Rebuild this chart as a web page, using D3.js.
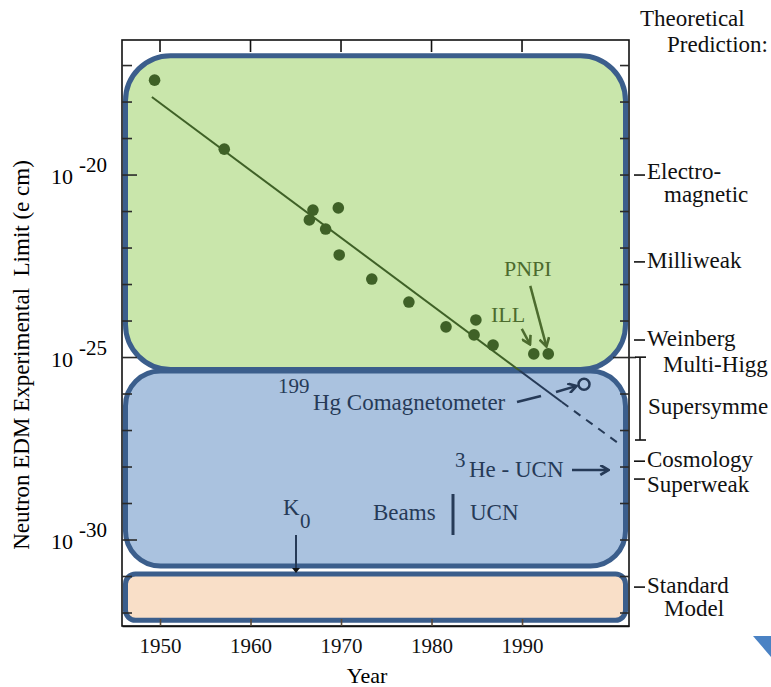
<!DOCTYPE html>
<html><head><meta charset="utf-8">
<script src="https://cdn.jsdelivr.net/npm/d3@7"></script>
<style>
body{margin:0;background:#fff}
svg{display:block}
svg text{font-family:'Liberation Serif','Times New Roman',Times,Tinos,'Nimbus Roman','DejaVu Serif',serif !important}
</style>
</head><body>
<svg id="c" width="771" height="687" font-family="'Liberation Serif', 'Times New Roman', Times, serif"></svg>
<script>
// ---- data ----
const years    = [1949.4, 1957.1, 1966.5, 1966.9, 1968.3, 1969.7, 1969.8, 1973.4, 1977.5, 1981.6, 1984.9, 1984.7, 1986.8, 1991.3, 1992.9];
const limitExp = [-17.4, -19.29, -21.23, -20.96, -21.48, -20.9, -22.19, -22.85, -23.48, -24.16, -23.97, -24.38, -24.66, -24.9, -24.9];
const hgYear = 1996.85, hgExp = -25.73;
const fitYears = [1949.1, 1994.4], fitExp = [-17.86, -26.22];
const extYears = [1994.4, 2000.6], extExp = [-26.22, -27.34];
const yearTicks = [1950, 1960, 1970, 1980, 1990];
const labelExps = [-20, -25, -30];
const decadeExps = d3.range(-17, -33, -1);
const bandTop = [-16.73, -25.37, -30.93];
const bandBottom = [-25.33, -30.71, -32.2];
const bandFill = ["#c9e6ab", "#aac2df", "#f9dfc8"];
const predNames = ["Electro-|magnetic", "Milliweak", "Weinberg", "Cosmology", "Superweak", "Standard|Model"];
const predExps  = [-20, -22.38, -24.52, -27.84, -28.33, -31.29];
const rangeNames = ["Multi-Higg", "Supersymme"];
const rangeExps = [-24.99, -27.26];

// ---- scales ----
const E = e => Math.pow(10, e);
const svg = d3.select("#c");
const x = d3.scaleLinear().domain([1945.8, 2001.82]).range([122, 629]);
const y = d3.scaleLog().domain([E(-32.356), E(-16.3)]).range([626, 40]);
const L = x.range()[0], R = x.range()[1], T = y.range()[1], B = y.range()[0];

const NAVY = "#263a57", GREEN = "#3f6127", GTEXT = "#4c6b2e", STROKE = "#3b5e8c";

// markers
const defs = svg.append("defs");
function marker(id, color) {
  defs.append("marker").attr("id", id).attr("viewBox", "0 -5 10 10")
    .attr("refX", 8).attr("refY", 0).attr("markerWidth", 11).attr("markerHeight", 11)
    .attr("markerUnits", "userSpaceOnUse").attr("orient", "auto")
    .append("path").attr("d", "M1,-4.5L8.5,0L1,4.5").attr("fill", "none")
    .attr("stroke", color).attr("stroke-width", 2.4);
}
marker("ag", GTEXT); marker("an", NAVY);

// frame
svg.append("rect").attr("x", L).attr("y", T).attr("width", R - L).attr("height", B - T)
  .attr("fill", "none").attr("stroke", "#111").attr("stroke-width", 1.6);
// top ticks
svg.append("g").selectAll("line").data(yearTicks).join("line")
  .attr("x1", d => x(d)).attr("x2", d => x(d)).attr("y1", T).attr("y2", T + 12)
  .attr("stroke", "#111").attr("stroke-width", 1.6);

// bands
const radii = [45, 35, 10];
svg.append("g").selectAll("rect").data(bandTop).join("rect")
  .attr("x", (d, i) => L + 3.5).attr("width", (d, i) => R - L - 7)
  .attr("y", d => y(E(d)))
  .attr("height", (d, i) => y(E(bandBottom[i])) - y(E(d)))
  .attr("rx", (d, i) => radii[i])
  .attr("fill", (d, i) => bandFill[i]).attr("stroke", STROKE).attr("stroke-width", 5);

// left / right decade ticks
const tk = svg.append("g").attr("stroke", "#2a2a2a").attr("stroke-width", 1.6);
tk.selectAll(".l").data(decadeExps).join("line").attr("class", "l")
  .attr("x1", L).attr("x2", d => labelExps.includes(d) ? L + 15 : L + 10)
  .attr("y1", d => y(E(d))).attr("y2", d => y(E(d)));
tk.selectAll(".r").data(decadeExps).join("line").attr("class", "r")
  .attr("x1", d => d === -25 ? R - 16 : R - 9).attr("x2", d => d === -25 ? R + 7 : R)
  .attr("y1", d => y(E(d))).attr("y2", d => y(E(d)));

// bottom axis
const xAxis = d3.axisBottom(x).tickValues(yearTicks).tickFormat(d3.format("d"))
  .tickSizeInner(-7).tickSizeOuter(0).tickPadding(12);
const gx = svg.append("g").attr("transform", `translate(0,${B})`).call(xAxis)
  .attr("font-family", null);
gx.select(".domain").attr("stroke", "#111").attr("stroke-width", 1.6);
gx.selectAll(".tick line").attr("stroke", "#5a4a3a").attr("stroke-width", 1.6);
gx.selectAll(".tick text").attr("font-size", 21).attr("fill", "#111");
gx.attr("font-size", 21);

// left labels 10^n
const yl = svg.append("g").selectAll("g").data(labelExps).join("g");
yl.append("text").attr("x", 73).attr("y", d => y(E(d)) + 9).attr("text-anchor", "end")
  .attr("font-size", 22).text("10");
yl.append("text").attr("x", 79).attr("y", d => y(E(d)) - 3)
  .attr("font-size", 21).text(d => "" + d);

// axis titles
svg.append("text").attr("x", 367).attr("y", 683).attr("text-anchor", "middle")
  .attr("font-size", 22).text("Year");
svg.append("text").attr("transform", "translate(29,355) rotate(-90)").attr("text-anchor", "middle")
  .attr("font-size", 23)
  .text("Neutron EDM Experimental\u00a0 Limit (e cm)");

// fit line, coloured by region
const yBound = y(E(bandBottom[0])) + 1;
defs.append("clipPath").attr("id", "cg").append("rect").attr("x", 0).attr("y", 0).attr("width", 771).attr("height", yBound);
defs.append("clipPath").attr("id", "cb").append("rect").attr("x", 0).attr("y", yBound).attr("width", 771).attr("height", 687);
const line = d3.line().x(d => x(d[0])).y(d => y(E(d[1])));
const fitPts = fitYears.map((v, i) => [v, fitExp[i]]);
svg.append("path").attr("d", line(fitPts)).attr("clip-path", "url(#cg)")
  .attr("fill", "none").attr("stroke", GREEN).attr("stroke-width", 2);
svg.append("path").attr("d", line(fitPts)).attr("clip-path", "url(#cb)")
  .attr("fill", "none").attr("stroke", NAVY).attr("stroke-width", 2);
svg.append("path").attr("d", line(extYears.map((v, i) => [v, extExp[i]])))
  .attr("fill", "none").attr("stroke", NAVY).attr("stroke-width", 2).attr("stroke-dasharray", "8,7");

// data points
svg.append("g").selectAll("circle").data(years).join("circle")
  .attr("cx", d => x(d)).attr("cy", (d, i) => y(E(limitExp[i]))).attr("r", 5.8)
  .attr("fill", GREEN);
// Hg open circle
const hx = x(hgYear), hy = y(E(hgExp));
svg.append("circle").attr("cx", hx).attr("cy", hy).attr("r", 5.5)
  .attr("fill", "none").attr("stroke", NAVY).attr("stroke-width", 2.5);

// ILL & PNPI
const ix = x(years[13]), iy = y(E(limitExp[13]));
const px = x(years[14]), py = y(E(limitExp[14]));
svg.append("text").attr("x", 491).attr("y", 322).attr("font-size", 22).attr("fill", GTEXT).text("ILL");
svg.append("text").attr("x", 504).attr("y", 276).attr("font-size", 22).attr("fill", GTEXT).text("PNPI");
svg.append("line").attr("x1", ix - 12).attr("y1", iy - 25).attr("x2", ix - 4).attr("y2", iy - 10)
  .attr("stroke", GTEXT).attr("stroke-width", 2.5).attr("marker-end", "url(#ag)");
svg.append("line").attr("x1", px - 18).attr("y1", py - 68).attr("x2", px - 2).attr("y2", py - 8)
  .attr("stroke", GTEXT).attr("stroke-width", 2.5).attr("marker-end", "url(#ag)");

// Hg annotation
const hg = svg.append("g").attr("fill", NAVY);
hg.append("text").attr("x", 278).attr("y", 393).attr("font-size", 21).text("199");
hg.append("text").attr("x", 313).attr("y", 410).attr("font-size", 23).text("Hg Comagnetometer");
svg.append("line").attr("x1", 517).attr("y1", 402).attr("x2", 541).attr("y2", 396)
  .attr("stroke", NAVY).attr("stroke-width", 2.5);
svg.append("line").attr("x1", 556).attr("y1", 392).attr("x2", hx - 8).attr("y2", hy + 2)
  .attr("stroke", NAVY).attr("stroke-width", 2.5).attr("marker-end", "url(#an)");

// 3He - UCN
hg.append("text").attr("x", 455).attr("y", 467).attr("font-size", 21).text("3");
hg.append("text").attr("x", 469).attr("y", 477).attr("font-size", 23).text("He - UCN");
svg.append("line").attr("x1", 572).attr("y1", 470).attr("x2", 608).attr("y2", 470)
  .attr("stroke", NAVY).attr("stroke-width", 2.5).attr("marker-end", "url(#an)");

// K0
hg.append("text").attr("x", 283).attr("y", 515).attr("font-size", 23).text("K");
hg.append("text").attr("x", 300).attr("y", 528).attr("font-size", 21).text("0");
svg.append("line").attr("x1", 296).attr("y1", 535).attr("x2", 296).attr("y2", 569)
  .attr("stroke", NAVY).attr("stroke-width", 2);
svg.append("path").attr("d", "M292,568L300,568L296,573Z").attr("fill", "#111");

// Beams | UCN
hg.append("text").attr("x", 373).attr("y", 520).attr("font-size", 23).text("Beams");
hg.append("text").attr("x", 470).attr("y", 520).attr("font-size", 23).text("UCN");
svg.append("line").attr("x1", 453).attr("x2", 453).attr("y1", 494).attr("y2", 535)
  .attr("stroke", NAVY).attr("stroke-width", 3);

// Theoretical predictions
const rt = svg.append("g").attr("font-size", 23).attr("fill", "#111");
const th = rt.append("text").attr("x", 640).attr("y", 26);
th.append("tspan").text("Theoretical");
th.append("tspan").attr("x", 667).attr("dy", 26).text("Prediction:");
predNames.forEach((n, i) => {
  const ty = y(E(predExps[i]));
  const parts = n.split("|");
  rt.append("line").attr("x1", 634).attr("x2", 645).attr("y1", ty).attr("y2", ty)
    .attr("stroke", "#111").attr("stroke-width", 1.6);
  const base = n === "Superweak" ? ty + 13 : (n.startsWith("Elec") ? ty + 4 : ty + 6);
  const t = rt.append("text").attr("x", 647).attr("y", base);
  t.append("tspan").text(parts[0]);
  if (parts[1]) t.append("tspan").attr("x", 664).attr("dy", 23).text(parts[1]);
});
// range bracket
const r0 = y(E(rangeExps[0])), r1 = y(E(rangeExps[1]));
const br = svg.append("g").attr("stroke", "#111").attr("stroke-width", 1.6);
br.append("line").attr("x1", 640).attr("x2", 640).attr("y1", r0).attr("y2", r1);
br.append("line").attr("x1", 635).attr("x2", 646).attr("y1", r0).attr("y2", r0);
br.append("line").attr("x1", 635).attr("x2", 646).attr("y1", r1).attr("y2", r1);
rt.append("text").attr("x", 663).attr("y", r0 + 15).text(rangeNames[0]);
rt.append("text").attr("x", 648).attr("y", r0 + 57).text(rangeNames[1]);

// corner triangle
svg.append("path").attr("d", "M753,636L771,636L771,657Z").attr("fill", "#4a82c4");
</script>
</body></html>
